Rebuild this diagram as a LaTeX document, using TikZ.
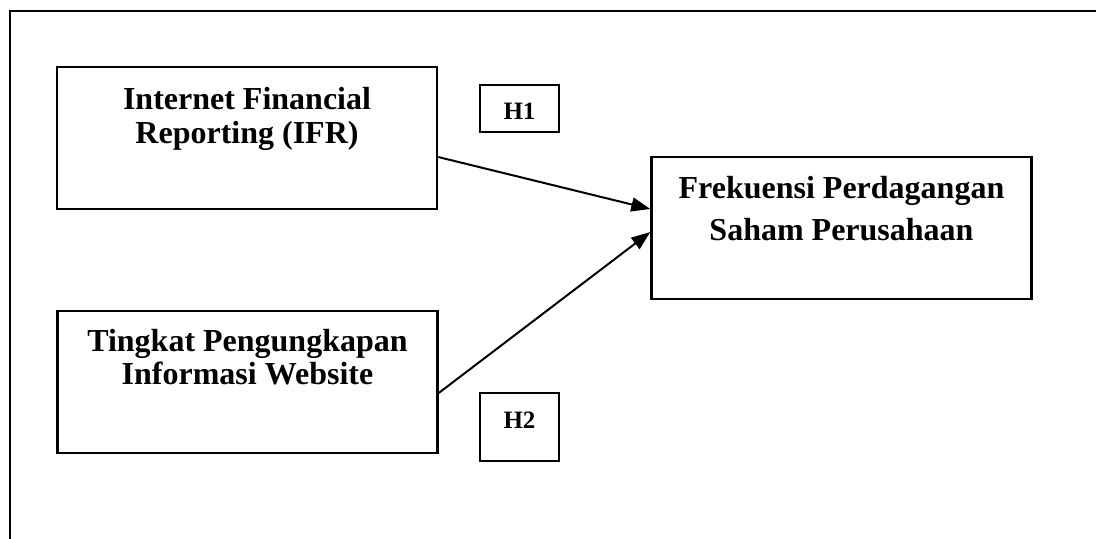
\documentclass[tikz,border=0pt]{standalone}
\usepackage{fontspec}
\setmainfont{Liberation Serif}
\usetikzlibrary{arrows.meta,positioning}

\begin{document}
\begin{tikzpicture}[x=0.5pt,y=-0.5pt,
    var/.style={draw,line width=1.2pt,minimum width=190pt,minimum height=71pt,inner sep=0pt},
    hyp/.style={draw,line width=1.2pt,minimum width=39.5pt,inner sep=0pt},
    txt/.style={inner sep=0pt,align=center,font=\bfseries\fontsize{16}{17}\selectfont},
    htxt/.style={inner sep=0pt,font=\bfseries\fontsize{12.5}{14}\selectfont},
    link/.style={line width=1pt,-{Triangle[length=9.5pt,width=7pt]}}]
      \useasboundingbox (0,0) rectangle (1096,538);
      \clip (0,0) rectangle (1096,538);
      \draw[line width=1.15pt] (10,11) rectangle (1130,570);
      % variables
      \node[var] (ifr) at (247,138) {};
      \node[txt, below=10.5pt of ifr.north] (ifrtxt) {Internet Financial\\Reporting (IFR)};
      \node[var] (web) at (247.5,382) {};
      \node[txt, font=\bfseries\fontsize{16}{16.5}\selectfont, below=9.5pt of web.north] (webtxt) {Tingkat Pengungkapan\\Informasi Website};
      \node[var] (fps) at (841.5,228) {};
      \node[txt, font=\bfseries\fontsize{16}{21}\selectfont, below=10pt of fps.north] (fpstxt) {Frekuensi Perdagangan\\Saham Perusahaan};
      % hypotheses
      \node[hyp, minimum height=23.5pt] (h1) at (519.5,108.5) {};
      \node[htxt, below=9.5pt of h1.north] (h1txt) {H1};
      \node[hyp, minimum height=34pt] (h2) at (519.5,427) {};
      \node[htxt, below=10pt of h2.north] (h2txt) {H2};
      % links
      \draw[link] ([yshift=-9.5pt]ifr.east) -- ([yshift=9.5pt]fps.west);
      \draw[link] ([yshift=-5.5pt]web.east) -- ([yshift=-2pt]fps.west);
\end{tikzpicture}
\end{document}
